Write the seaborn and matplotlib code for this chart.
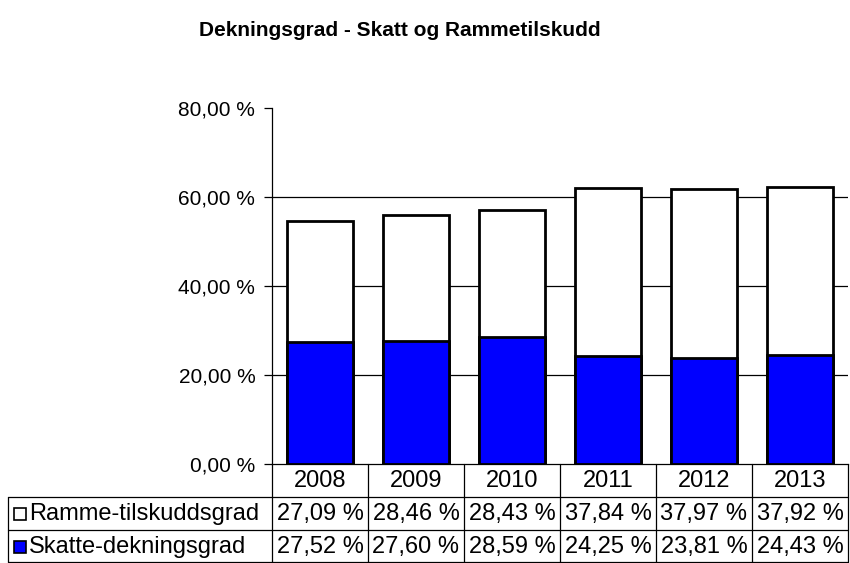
import matplotlib
matplotlib.use("Agg")
import matplotlib.pyplot as plt
import seaborn as sns
import pandas as pd

# chart data
years = ["2008", "2009", "2010", "2011", "2012", "2013"]
ramme = [27.09, 28.46, 28.43, 37.84, 37.97, 37.92]
skatte = [27.52, 27.60, 28.59, 24.25, 23.81, 24.43]
series_names = ["Ramme-tilskuddsgrad", "Skatte-dekningsgrad"]
series_colors = ["white", "#0000FF"]
yticks = [0, 20, 40, 60, 80]
title = "Dekningsgrad - Skatt og Rammetilskudd"

W, H = 850, 563
sns.set_theme(style="white")
plt.rcParams["font.family"] = ["Liberation Sans", "DejaVu Sans"]
plt.rcParams["text.color"] = "black"
plt.rcParams["ytick.color"] = "black"
plt.rcParams["xtick.color"] = "black"


def pct(v):
    return f"{v:.2f}".replace(".", ",") + " %"


def box(l, t, r, b):
    # pixel box -> figure fraction
    return [l / W, 1 - b / H, (r - l) / W, (b - t) / H]


df = pd.DataFrame({"year": years, "ramme": ramme, "skatte": skatte})
df["total"] = df["ramme"] + df["skatte"]

fig = plt.figure(figsize=(W / 100, H / 100), dpi=100)
fig.patch.set_facecolor("white")

# bars
ax = fig.add_axes(box(272, 108, 848, 464))
sns.barplot(data=df, x="year", y="total", color=series_colors[0], saturation=1,
            edgecolor="black", linewidth=2, width=0.68, ax=ax, zorder=3)
sns.barplot(data=df, x="year", y="skatte", color=series_colors[1], saturation=1,
            edgecolor="black", linewidth=2, width=0.68, ax=ax, zorder=4)

for t in yticks[1:-1]:
    ax.axhline(t, color="black", lw=0.9, zorder=1)

ax.set_xlim(-0.5, len(years) - 0.5)
ax.set_ylim(yticks[0], yticks[-1])
ax.set_yticks(yticks)
ax.set_yticklabels([pct(v) for v in yticks], fontsize=15, color="black")
ax.tick_params(axis="y", left=True, length=6, width=0.9, color="black", pad=6)
ax.tick_params(axis="x", bottom=False, labelbottom=False)
ax.set_xlabel("")
ax.set_ylabel("")
for s in ["top", "right"]:
    ax.spines[s].set_visible(False)
for s in ["left", "bottom"]:
    ax.spines[s].set_color("black")
    ax.spines[s].set_linewidth(0.9)

# data table under the chart
tab = fig.add_axes(box(272, 464, 848, 563))
tab.set_xlim(-0.5, len(years) - 0.5)
tab.set_ylim(3, 0)
tab.axis("off")
lab_left = -3.25
lk = dict(color="black", lw=0.9, clip_on=False)
for i in range(len(years) + 1):
    tab.plot([i - 0.5, i - 0.5], [0, 2.97], **lk)
tab.plot([lab_left, lab_left], [1, 2.97], **lk)
for r in [1, 2, 2.97]:
    tab.plot([lab_left, len(years) - 0.5], [r, r], **lk)

fs = 17
for i, y in enumerate(years):
    tab.text(i, 0.52, y, ha="center", va="center", fontsize=fs)

rows = [ramme, skatte]
for r, (name, vals, col) in enumerate(zip(series_names, rows, series_colors)):
    yy = r + 1.52
    tab.plot([lab_left + 0.13], [yy], marker="s", ms=8, mfc=col, mec="black",
             mew=1.2, clip_on=False)
    tab.text(lab_left + 0.22, yy, name, ha="left", va="center", fontsize=fs)
    for i, v in enumerate(vals):
        tab.text(i, yy, pct(v), ha="center", va="center", fontsize=fs)

fig.text(400 / W, 1 - 30 / H, title, ha="center", va="center",
         fontsize=15, fontweight="bold")

fig.savefig("out.png", dpi=100)
